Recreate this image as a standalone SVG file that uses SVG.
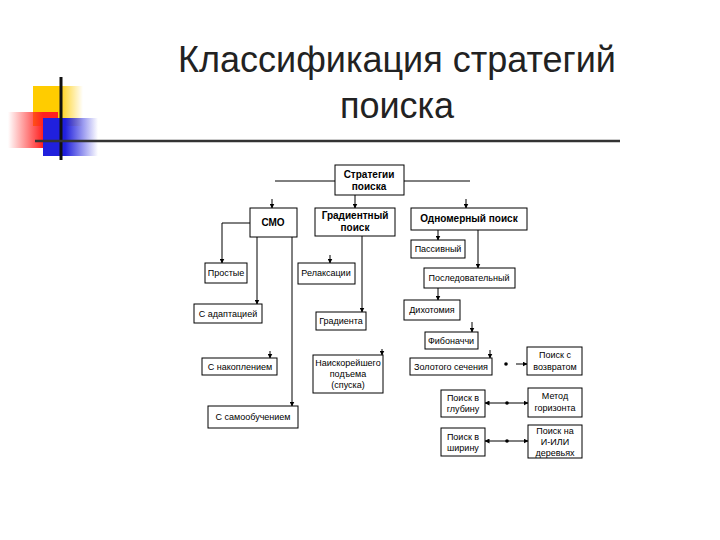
<svg xmlns="http://www.w3.org/2000/svg" width="720" height="540" viewBox="0 0 720 540">
<defs>
<linearGradient id="gy" x1="0" x2="1"><stop offset="0.5" stop-color="#ffcc00"/><stop offset="1" stop-color="#ffcc00" stop-opacity="0"/></linearGradient>
<linearGradient id="gr" x1="1" x2="0"><stop offset="0.3" stop-color="#ff2020"/><stop offset="1" stop-color="#ff2020" stop-opacity="0"/></linearGradient>
<linearGradient id="gb" x1="0" x2="1"><stop offset="0.4" stop-color="#2020dd"/><stop offset="1" stop-color="#2020dd" stop-opacity="0"/></linearGradient>
<marker id="a" viewBox="0 0 10 10" refX="9" refY="5" markerWidth="5" markerHeight="5" orient="auto"><path d="M0,0L10,5L0,10z" fill="#000"/></marker>
<marker id="s" viewBox="0 0 10 10" refX="1" refY="5" markerWidth="5" markerHeight="5" orient="auto"><path d="M10,0L0,5L10,10z" fill="#000"/></marker>
</defs>
<style>
.b{fill:#fff;stroke:#000;stroke-width:1}
.t{font-family:"Liberation Sans",Arial,sans-serif;font-size:9px;text-anchor:middle;fill:#000}
.h{font-weight:bold;font-size:10px}
.c{stroke:#000;stroke-width:1;fill:none}
.ti{font-family:"Liberation Sans",Arial,sans-serif;font-size:36px;text-anchor:middle;fill:#222}
</style>
<g id="decor">
<rect x="33" y="86" width="50" height="40" fill="url(#gy)"/>
<rect x="8" y="112" width="50" height="36" fill="url(#gr)"/>
<rect x="43" y="118" width="55" height="38" fill="url(#gb)"/>
<line x1="61" y1="77" x2="61" y2="160" stroke="#111" stroke-width="3"/>
<line x1="35" y1="141" x2="620" y2="141" stroke="#333" stroke-width="2.5"/>
</g>
<text class="ti" x="397" y="72">Классификация стратегий</text>
<text class="ti" x="397" y="118">поиска</text>
<g id="connectors" class="c">
<line x1="275" y1="181" x2="335" y2="181"/>
<line x1="404" y1="181" x2="470" y2="181"/>
<line x1="272" y1="199" x2="272" y2="208" marker-end="url(#a)"/>
<line x1="355" y1="195" x2="355" y2="208" marker-end="url(#a)"/>
<line x1="466" y1="199" x2="466" y2="208" marker-end="url(#a)"/>
<polyline points="250,223 222,223 222,263" marker-end="url(#a)"/>
<line x1="257" y1="237" x2="257" y2="304" marker-end="url(#a)"/>
<line x1="292" y1="237" x2="292" y2="406" marker-end="url(#a)"/>
<line x1="330" y1="255" x2="330" y2="263" marker-end="url(#a)"/>
<line x1="362" y1="236" x2="362" y2="312" marker-end="url(#a)"/>
<line x1="270" y1="351" x2="270" y2="358" marker-end="url(#a)"/>
<line x1="382" y1="349" x2="382" y2="355" marker-end="url(#a)"/>
<line x1="438" y1="230" x2="438" y2="240" marker-end="url(#a)"/>
<line x1="478" y1="230" x2="478" y2="268" marker-end="url(#a)"/>
<line x1="438" y1="288" x2="438" y2="300" marker-end="url(#a)"/>
<line x1="472" y1="322" x2="472" y2="332" marker-end="url(#a)"/>
<line x1="490" y1="350" x2="490" y2="358" marker-end="url(#a)"/>
<line x1="516" y1="364" x2="527" y2="364" marker-end="url(#a)"/>
<line x1="485" y1="403" x2="528" y2="403" marker-start="url(#s)" marker-end="url(#a)"/>
<line x1="485" y1="441" x2="528" y2="441" marker-start="url(#s)" marker-end="url(#a)"/>
</g>
<g id="dots" fill="#000"><circle cx="506" cy="364" r="1.8"/><circle cx="507" cy="403" r="1.8"/><circle cx="507" cy="441" r="1.8"/></g>
<g id="n-strat"><rect class="b" x="335" y="165" width="69" height="30"/><text class="t h" x="369" y="178">Стратегии</text><text class="t h" x="369" y="190">поиска</text></g>
<g id="n-smo"><rect class="b" x="250" y="208" width="47" height="29"/><text class="t h" x="273" y="226">СМО</text></g>
<g id="n-grad"><rect class="b" x="315" y="208" width="80" height="28"/><text class="t h" x="355" y="219">Градиентный</text><text class="t h" x="355" y="231">поиск</text></g>
<g id="n-odn"><rect class="b" x="411" y="208" width="116" height="22"/><text class="t h" x="469" y="222">Одномерный поиск</text></g>
<g id="n-prost"><rect class="b" x="205" y="263" width="42" height="20"/><text class="t" x="226" y="276">Простые</text></g>
<g id="n-relax"><rect class="b" x="298" y="263" width="57" height="21"/><text class="t" x="326" y="276">Релаксации</text></g>
<g id="n-adapt"><rect class="b" x="194" y="304" width="68" height="19"/><text class="t" x="228" y="317">С адаптацией</text></g>
<g id="n-gradienta"><rect class="b" x="316" y="312" width="50" height="18"/><text class="t" x="341" y="324">Градиента</text></g>
<g id="n-nakop"><rect class="b" x="202" y="358" width="75" height="17"/><text class="t" x="240" y="370">С накоплением</text></g>
<g id="n-naisk"><rect class="b" x="313" y="355" width="70" height="38"/><text class="t" x="348" y="366">Наискорейшего</text><text class="t" x="348" y="377">подъема</text><text class="t" x="348" y="388">(спуска)</text></g>
<g id="n-samoob"><rect class="b" x="208" y="406" width="90" height="22"/><text class="t" x="253" y="420">С самообучением</text></g>
<g id="n-pass"><rect class="b" x="411" y="240" width="54" height="18"/><text class="t" x="438" y="252">Пассивный</text></g>
<g id="n-posl"><rect class="b" x="424" y="268" width="91" height="20"/><text class="t" x="469" y="281">Последовательный</text></g>
<g id="n-dih"><rect class="b" x="404" y="300" width="56" height="20"/><text class="t" x="432" y="313">Дихотомия</text></g>
<g id="n-fib"><rect class="b" x="425" y="332" width="53" height="17"/><text class="t" x="451" y="344">Фибоначчи</text></g>
<g id="n-zol"><rect class="b" x="410" y="358" width="82" height="17"/><text class="t" x="451" y="370">Золотого сечения</text></g>
<g id="n-vozvr"><rect class="b" x="527" y="347" width="55" height="28"/><text class="t" x="555" y="358">Поиск с</text><text class="t" x="555" y="370">возвратом</text></g>
<g id="n-glub"><rect class="b" x="441" y="390" width="44" height="27"/><text class="t" x="463" y="401">Поиск в</text><text class="t" x="463" y="412">глубину</text></g>
<g id="n-gor"><rect class="b" x="528" y="388" width="54" height="29"/><text class="t" x="555" y="399">Метод</text><text class="t" x="555" y="411">горизонта</text></g>
<g id="n-shir"><rect class="b" x="441" y="428" width="44" height="28"/><text class="t" x="463" y="440">Поиск в</text><text class="t" x="463" y="451">ширину</text></g>
<g id="n-ili"><rect class="b" x="528" y="425" width="54" height="33"/><text class="t" x="555" y="434">Поиск на</text><text class="t" x="555" y="445">И-ИЛИ</text><text class="t" x="555" y="456">деревьях</text></g>
</svg>
